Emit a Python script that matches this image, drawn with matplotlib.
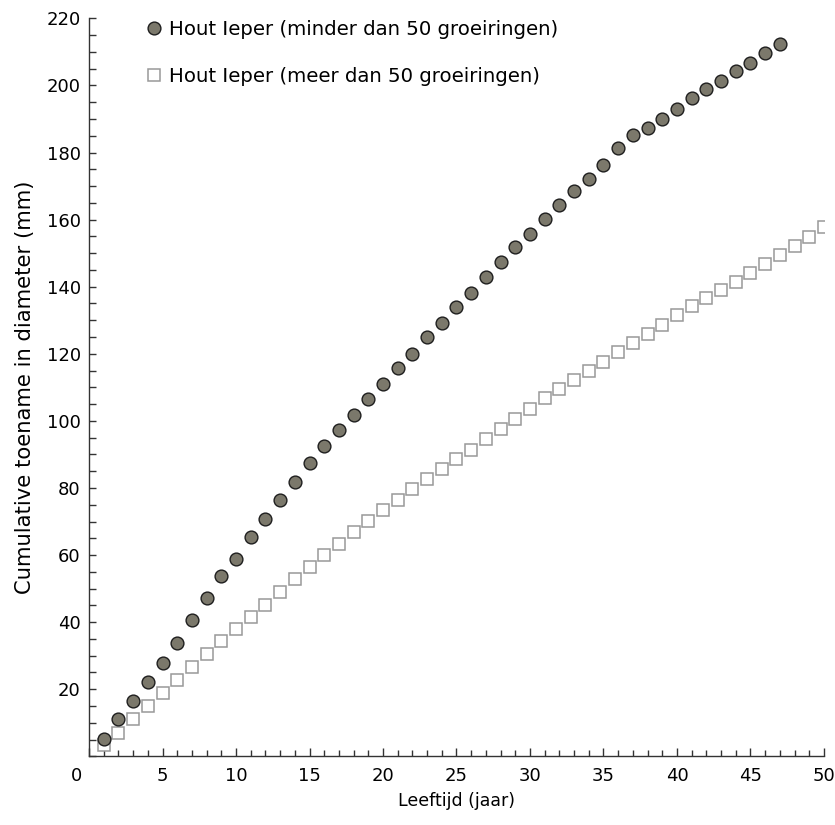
import matplotlib
matplotlib.use('Agg')
import matplotlib.pyplot as plt
import matplotlib.transforms as mtransforms
from matplotlib.ticker import MultipleLocator

plt.rcParams['font.family'] = ['DejaVu Sans']

# leeftijd (jaar)
jaren_minder = list(range(1, 48))
jaren_meer = list(range(1, 51))

# cumulatieve toename in diameter (mm)
minder_50 = [5.3, 11.0, 16.6, 22.1, 27.7, 33.7, 40.6, 47.3, 53.7, 58.8,
             65.3, 70.8, 76.3, 81.7, 87.5, 92.5, 97.2, 101.8, 106.4, 111.1,
             115.7, 119.8, 125.0, 129.3, 133.9, 138.2, 143.0, 147.4, 151.9, 155.6,
             160.3, 164.3, 168.4, 172.2, 176.4, 181.3, 185.1, 187.3, 190.1, 193.1,
             196.3, 198.8, 201.3, 204.3, 206.7, 209.7, 212.4]
meer_50 = [3.3, 7.1, 11.0, 14.9, 18.9, 22.9, 26.6, 30.4, 34.3, 37.9,
           41.5, 45.2, 49.0, 52.8, 56.4, 59.9, 63.4, 66.8, 70.1, 73.3,
           76.4, 79.6, 82.6, 85.7, 88.6, 91.4, 94.5, 97.5, 100.7, 103.6,
           106.7, 109.6, 112.3, 114.9, 117.6, 120.4, 123.1, 125.8, 128.7, 131.6,
           134.2, 136.5, 138.9, 141.5, 144.0, 146.8, 149.4, 152.0, 154.8, 157.7]

label_minder = 'Hout Ieper (minder dan 50 groeiringen)'
label_meer = 'Hout Ieper (meer dan 50 groeiringen)'

fig = plt.figure(figsize=(8.35, 8.25), dpi=100)
ax = fig.add_axes([0.1066, 0.0832, 0.8802, 0.8946])

ax.plot(jaren_minder, minder_50, linestyle='none', marker='o', markersize=9.2,
        markerfacecolor='#7b786b', markeredgecolor='#1e1e1e', markeredgewidth=1.0,
        label=label_minder, zorder=3)
ax.plot(jaren_meer, meer_50, linestyle='none', marker='s', markersize=8.2,
        markerfacecolor='white', markeredgecolor='#999999', markeredgewidth=1.1,
        label=label_meer, zorder=2)

ax.set_xlim(0, 50)
ax.set_ylim(0, 220)
ax.xaxis.set_major_locator(MultipleLocator(5))
ax.xaxis.set_minor_locator(MultipleLocator(1))
ax.set_yticks(range(20, 221, 20))
ax.yaxis.set_minor_locator(MultipleLocator(5))

for s in ['top', 'right']:
    ax.spines[s].set_visible(False)
for s in ['left', 'bottom']:
    ax.spines[s].set_color('#333333')
    ax.spines[s].set_linewidth(1.0)

ax.tick_params(axis='x', which='major', direction='in', length=6, width=1.0,
               color='#333333', labelsize=13, pad=8)
ax.tick_params(axis='x', which='minor', direction='in', length=4.3, width=1.0,
               color='#333333')
ax.tick_params(axis='y', which='both', direction='in', length=5, width=1.0,
               color='#333333', labelsize=13, pad=6)

# de "0" staat iets links van de oorsprong
offset = mtransforms.ScaledTranslation(-13 / 100, 0, fig.dpi_scale_trans)
fig.canvas.draw()
for lab in ax.get_xticklabels():
    if lab.get_text() == '0':
        lab.set_transform(lab.get_transform() + offset)

ax.set_xlabel('Leeftijd (jaar)', fontsize=12.5, labelpad=5)
ax.set_ylabel('Cumulative toename in diameter (mm)', fontsize=15.2, labelpad=8)

ax.legend(loc='upper left', bbox_to_anchor=(0.066, 1.008), frameon=False,
          fontsize=14.2, handlelength=0.9, handletextpad=0.3,
          labelspacing=1.4, borderaxespad=0)

fig.savefig('out.png', dpi=100)
